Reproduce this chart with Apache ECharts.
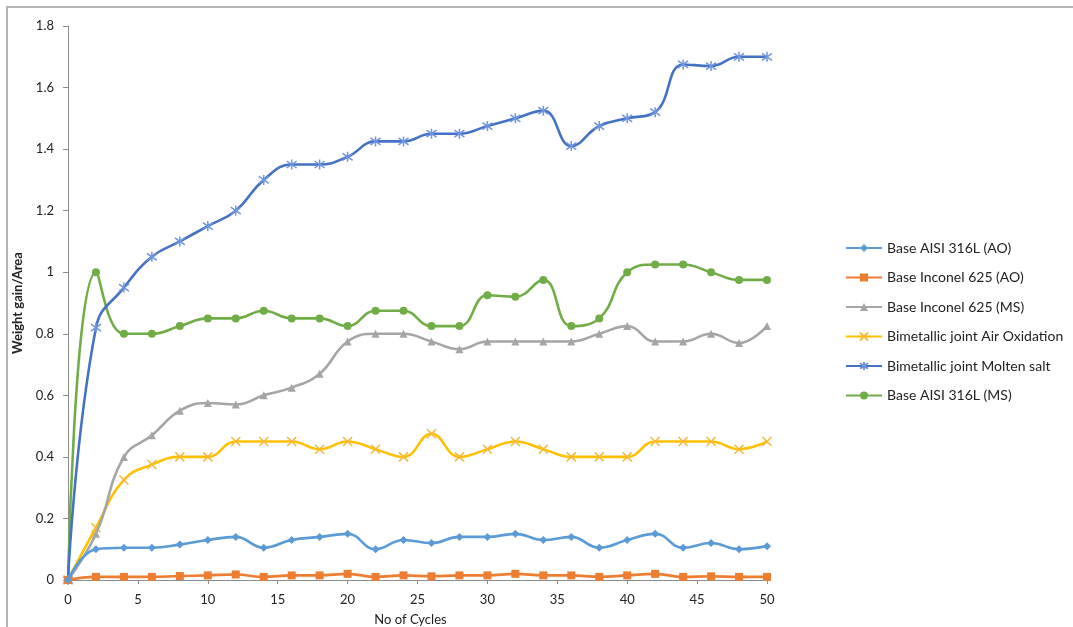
<!DOCTYPE html>
<html>
<head>
<meta charset="utf-8">
<script src="https://cdn.jsdelivr.net/npm/echarts@6/dist/echarts.min.js"></script>
<style>
html,body{margin:0;padding:0;background:#fff;}
#chart{width:1073px;height:627px;}
</style>
</head>
<body>
<div id="chart"></div>
<script>
const cycles = [0,2,4,6,8,10,12,14,16,18,20,22,24,26,28,30,32,34,36,38,40,42,44,46,48,50];
const seriesNames = ['Base AISI 316L (AO)','Base Inconel 625 (AO)','Base Inconel 625 (MS)','Bimetallic joint Air Oxidation','Bimetallic joint Molten salt','Base AISI 316L (MS)'];
const aisiAO = [0,0.10,0.105,0.105,0.115,0.13,0.14,0.105,0.13,0.14,0.15,0.10,0.13,0.12,0.14,0.14,0.15,0.13,0.14,0.105,0.13,0.15,0.105,0.12,0.10,0.11];
const inconelAO = [0,0.01,0.01,0.01,0.013,0.015,0.018,0.01,0.015,0.015,0.02,0.01,0.015,0.012,0.015,0.015,0.02,0.015,0.015,0.01,0.015,0.02,0.01,0.012,0.01,0.01];
const inconelMS = [0,0.15,0.40,0.47,0.55,0.575,0.57,0.60,0.625,0.67,0.775,0.80,0.80,0.775,0.75,0.775,0.775,0.775,0.775,0.80,0.825,0.775,0.775,0.80,0.77,0.825];
const bimetAir = [0,0.17,0.325,0.375,0.40,0.40,0.45,0.45,0.45,0.425,0.45,0.425,0.40,0.475,0.40,0.425,0.45,0.425,0.40,0.40,0.40,0.45,0.45,0.45,0.425,0.45];
const bimetMolten = [0,0.82,0.95,1.05,1.10,1.15,1.20,1.30,1.35,1.35,1.375,1.425,1.425,1.45,1.45,1.475,1.50,1.525,1.41,1.475,1.50,1.52,1.675,1.67,1.70,1.70];
const aisiMS = [0,1.00,0.80,0.80,0.825,0.85,0.85,0.875,0.85,0.85,0.825,0.875,0.875,0.825,0.825,0.925,0.92,0.975,0.825,0.85,1.00,1.025,1.025,1.00,0.975,0.975];
const yTicks = [0,0.2,0.4,0.6,0.8,1,1.2,1.4,1.6,1.8];
const xTicks = [0,5,10,15,20,25,30,35,40,45,50];

const allValues = [aisiAO, inconelAO, inconelMS, bimetAir, bimetMolten, aisiMS];
const lineColors = ['#5B9BD5','#ED7D31','#A5A5A5','#FFC000','#4472C4','#70AD47'];
const markColors = ['#5B9BD5','#ED7D31','#A5A5A5','#F5B93A','#6F95DE','#70AD47'];
const xPath = 'path://M-1,-1L1,1M-1,1L1,-1';
const starPath = 'path://M0,-1L0,1M-1,-0.7L1,0.7M-1,0.7L1,-0.7';
const symbols = ['diamond','rect','triangle',xPath,starPath,'circle'];
const sizes = [8,8,8,9,10,8];

const series = allValues.map((vals, i) => ({
  name: seriesNames[i],
  type: 'line',
  smooth: 0.45,
  data: cycles.map((c, k) => [c, vals[k]]),
  symbol: symbols[i],
  symbolSize: sizes[i],
  showAllSymbol: true,
  lineStyle: { color: lineColors[i], width: 2.6 },
  itemStyle: {
    color: (i === 3 || i === 4) ? 'rgba(0,0,0,0)' : markColors[i],
    borderColor: markColors[i],
    borderWidth: (i === 3 || i === 4) ? 1.5 : 0
  },
  emphasis: { disabled: true },
  z: 10 - i
}));

const chart = echarts.init(document.getElementById('chart'));
chart.setOption({
  animation: false,
  backgroundColor: '#ffffff',
  textStyle: { fontFamily: 'Lato, "Open Sans", sans-serif' },
  graphic: [{
    type: 'rect',
    shape: { x: 7, y: 7, width: 1200, height: 800 },
    style: { fill: 'none', stroke: '#b5b5b5', lineWidth: 2 },
    silent: true
  }],
  grid: { left: 68, right: 306, top: 26, bottom: 47, containLabel: false, outerBoundsMode: 'none' },
  legend: {
    orient: 'vertical',
    left: 840,
    top: 236,
    itemWidth: 36,
    itemHeight: 10,
    itemGap: 15.5,
    data: seriesNames,
    textStyle: { fontSize: 14, color: '#222', fontFamily: 'Lato, sans-serif' }
  },
  xAxis: {
    type: 'value',
    min: 0, max: 50, interval: 5,
    name: 'No of Cycles',
    nameLocation: 'middle',
    nameGap: 33,
    nameTextStyle: { fontSize: 13, color: '#222', padding: [0, 14, 0, 0] },
    axisLine: { show: true, onZero: false, lineStyle: { color: '#8c8c8c', width: 1 } },
    axisTick: { show: true, length: 4, lineStyle: { color: '#8c8c8c' } },
    axisLabel: { fontSize: 13, color: '#222', margin: 13, formatter: v => xTicks.includes(v) ? String(v) : '' },
    splitLine: { show: false }
  },
  yAxis: {
    type: 'value',
    min: 0, max: 1.8, interval: 0.2,
    name: 'Weight gain/Area',
    nameLocation: 'middle',
    nameGap: 44,
    nameRotate: 90,
    nameTextStyle: { fontSize: 13, color: '#222', fontWeight: 'bold' },
    axisLine: { show: true, lineStyle: { color: '#8c8c8c', width: 1 } },
    axisTick: { show: true, length: 5, lineStyle: { color: '#8c8c8c' } },
    axisLabel: { fontSize: 13, color: '#222', margin: 14,
      formatter: v => { const t = yTicks.find(y => Math.abs(y - v) < 1e-6); return t === undefined ? '' : String(t); } },
    splitLine: { show: false }
  },
  series: series
});
</script>
</body>
</html>
